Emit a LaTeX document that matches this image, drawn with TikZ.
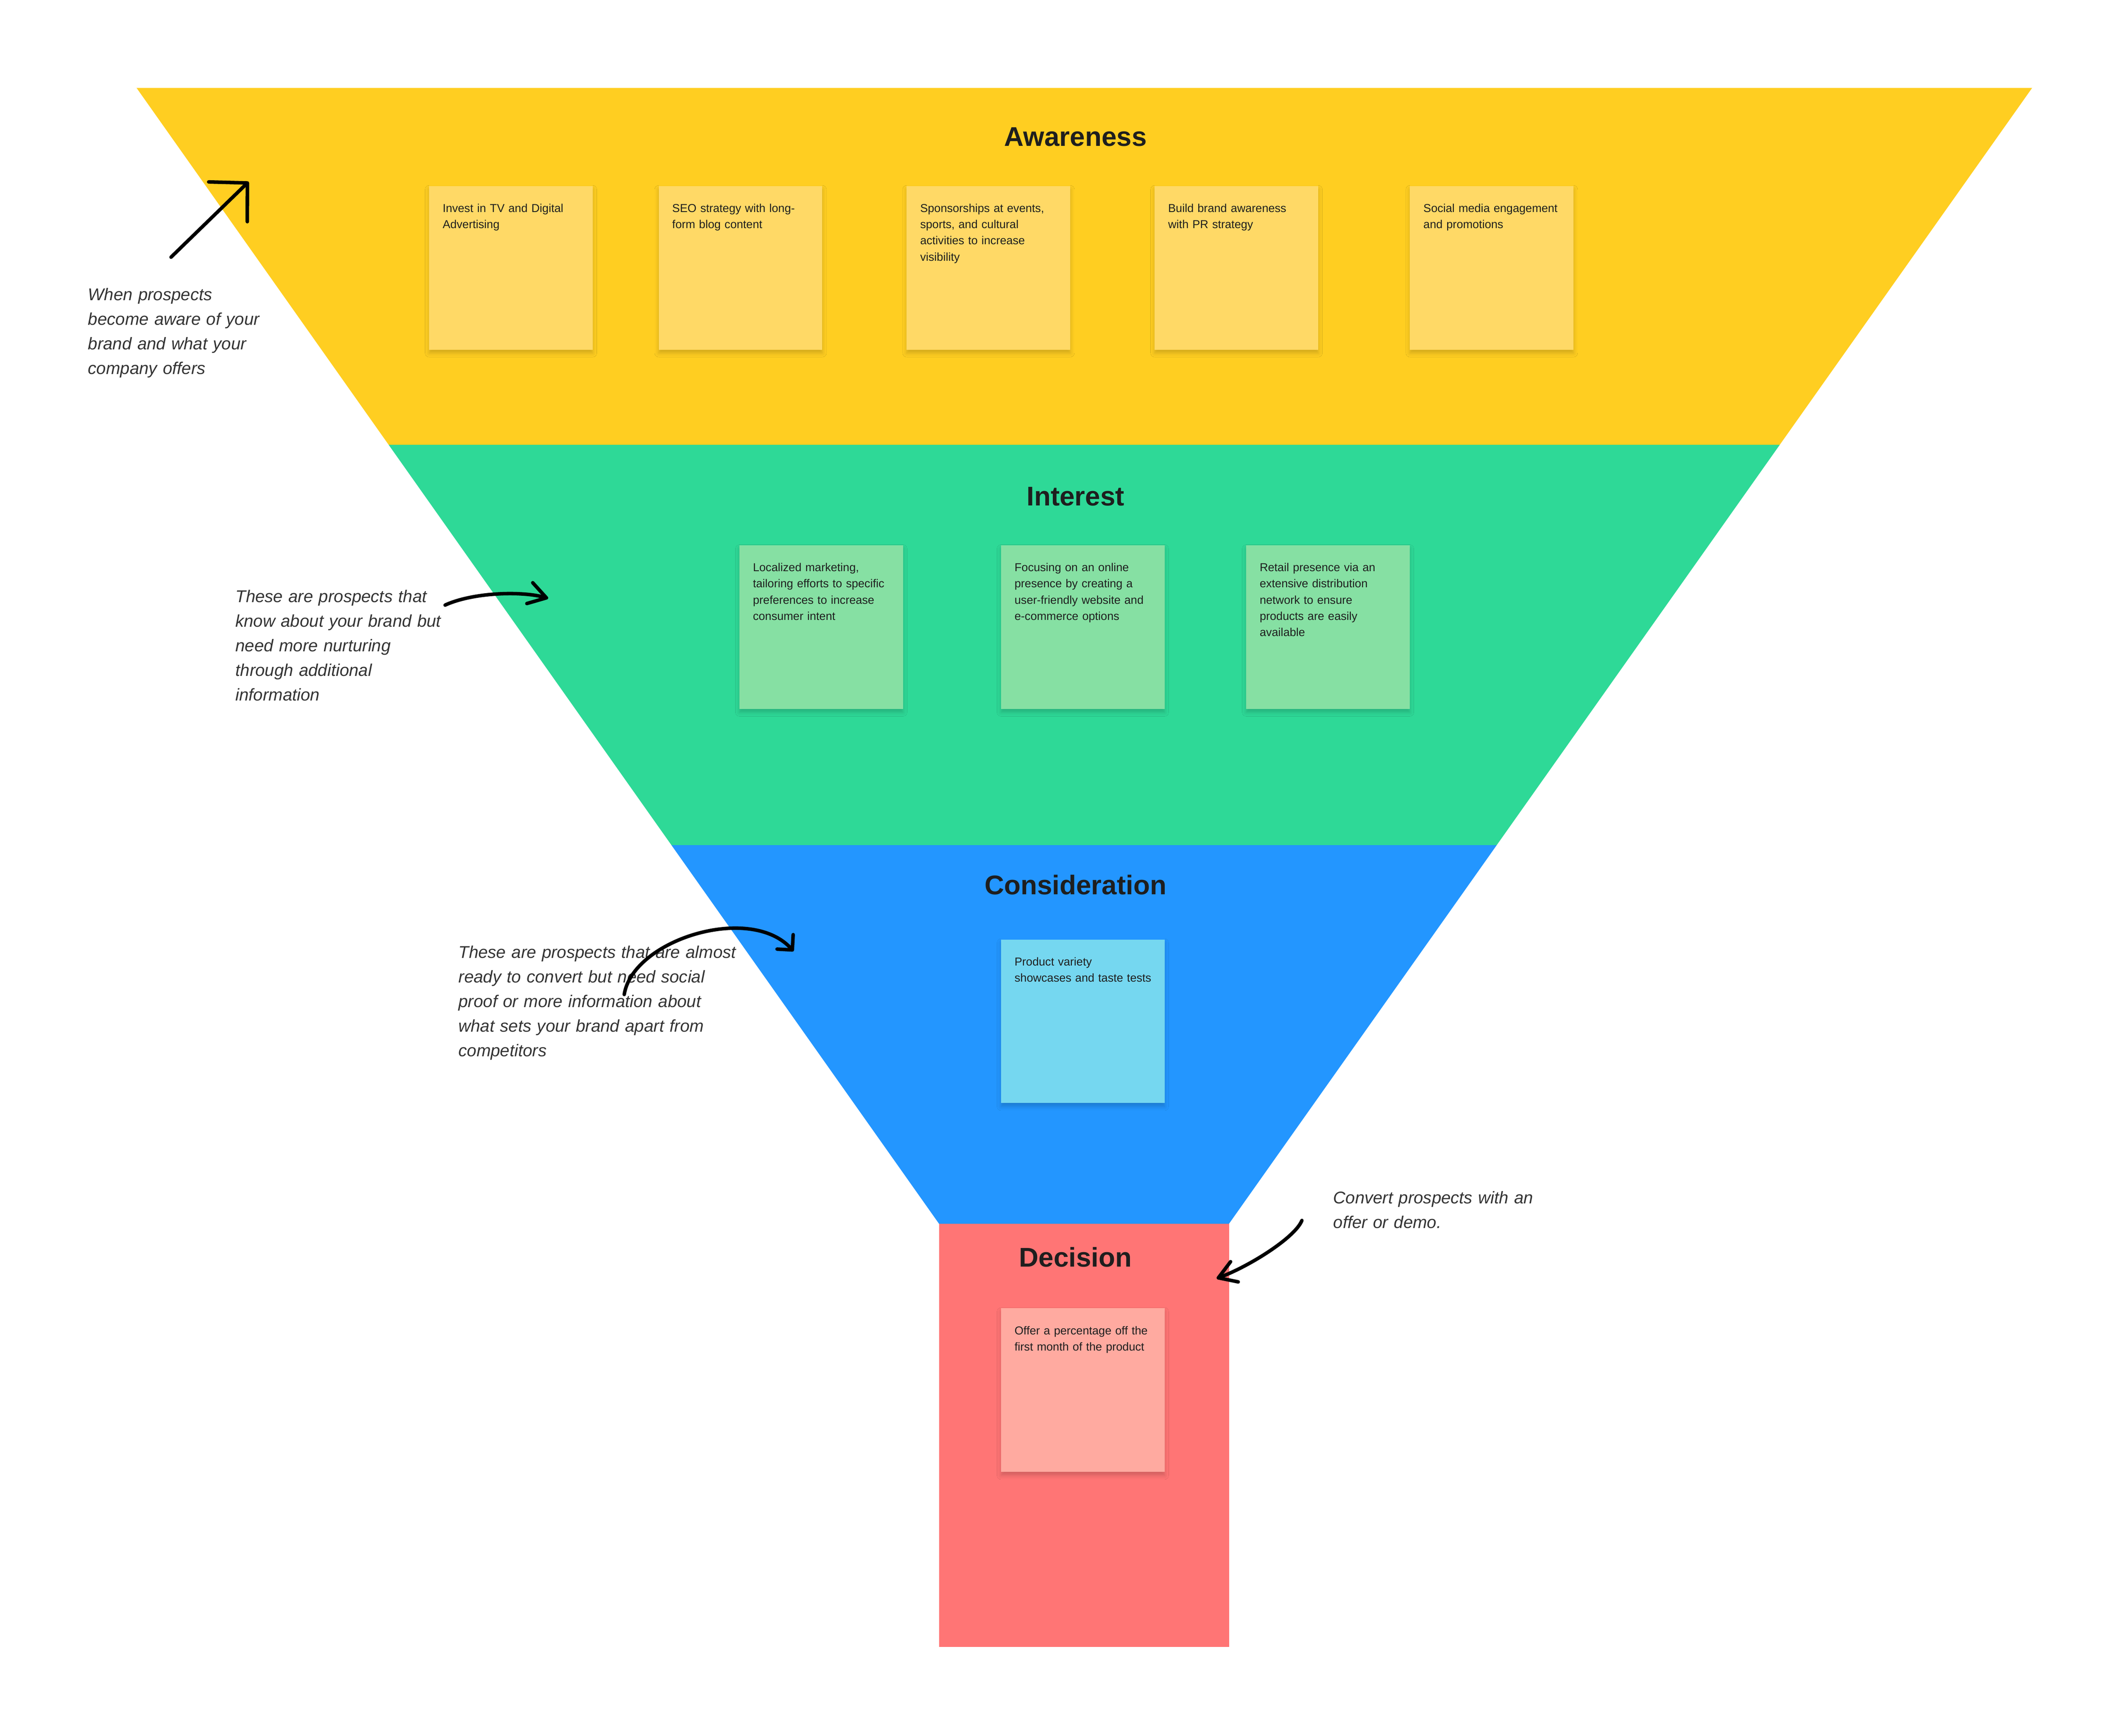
\documentclass[tikz,border=0pt]{standalone}
\usepackage{fontspec}
\setmainfont{Liberation Sans}
\usetikzlibrary{arrows.meta,shadows.blur}

\definecolor{awarecol}{HTML}{FFCE21}
\definecolor{interestcol}{HTML}{2ED997}
\definecolor{considercol}{HTML}{2396FF}
\definecolor{decisioncol}{HTML}{FF7575}
\definecolor{stickyY}{HTML}{FFD966}
\definecolor{stickyG}{HTML}{86E0A3}
\definecolor{stickyB}{HTML}{75D7F0}
\definecolor{stickyR}{HTML}{FFAAA0}
\definecolor{inkdark}{HTML}{1E1E1E}
\definecolor{inkgray}{HTML}{333333}

\tikzset{
  stagetitle/.style={anchor=base, inner sep=0pt, text=inkdark,
    font=\fontsize{20}{24}\selectfont\bfseries},
  sticky/.style={anchor=north west, minimum width=121pt, minimum height=121pt, inner sep=0pt,
    blur shadow={shadow xshift=0pt, shadow yshift=-2.5pt, shadow blur radius=3pt, shadow opacity=18}},
  stickytext/.style={anchor=base west, inner sep=0pt, text width=110pt, align=left, text=inkdark,
    font=\fontsize{8.5}{12}\selectfont},
  remark/.style={anchor=base west, inner sep=0pt, text width=240pt, align=left, text=inkgray,
    font=\fontsize{12.6}{18.2}\selectfont\itshape},
  hand/.style={line width=2.6pt, line cap=round, line join=round, black},
}

\begin{document}
\begin{tikzpicture}[x=1pt, y=-1pt]
\useasboundingbox (0,0) rectangle (1568,1283.8);

% funnel
\fill[awarecol] (101,65) -- (1503,65) -- (1316.3,329) -- (287.5,329) -- cycle;
\fill[interestcol] (287.5,329) -- (1316.3,329) -- (1107,625) -- (496.6,625) -- cycle;
\fill[considercol] (496.6,625) -- (1107,625) -- (909,905) -- (694.5,905) -- cycle;
\fill[decisioncol] (694.5,905) rectangle (909,1218);

\node[stagetitle] (T_aw) at (795.5,108) {Awareness};
\node[stagetitle] (T_in) at (795.5,374) {Interest};
\node[stagetitle] (T_co) at (795.5,661.4) {Consideration};
\node[stagetitle] (T_de) at (795.5,936.9) {Decision};

% awareness stickies
\node[sticky, fill=stickyY] (A_1) at (317.2,137.4) {};
\node[stickytext] (A_1t) at ([shift={(10,19.5)}]A_1.north west) {Invest in TV and Digital\\Advertising};
\node[sticky, fill=stickyY] (A_2) at (487,137.4) {};
\node[stickytext] (A_2t) at ([shift={(10,19.5)}]A_2.north west) {SEO strategy with long-\\form blog content};
\node[sticky, fill=stickyY] (A_3) at (670.4,137.4) {};
\node[stickytext] (A_3t) at ([shift={(10,19.5)}]A_3.north west) {Sponsorships at events,\\sports, and cultural\\activities to increase\\visibility};
\node[sticky, fill=stickyY] (A_4) at (853.8,137.4) {};
\node[stickytext] (A_4t) at ([shift={(10,19.5)}]A_4.north west) {Build brand awareness\\with PR strategy};
\node[sticky, fill=stickyY] (A_5) at (1042.6,137.4) {};
\node[stickytext] (A_5t) at ([shift={(10,19.5)}]A_5.north west) {Social media engagement\\and promotions};

% interest stickies
\node[sticky, fill=stickyG] (I_1) at (546.7,403.1) {};
\node[stickytext] (I_1t) at ([shift={(10,19.5)}]I_1.north west) {Localized marketing,\\tailoring efforts to specific\\preferences to increase\\consumer intent};
\node[sticky, fill=stickyG] (I_2) at (740.2,403.1) {};
\node[stickytext] (I_2t) at ([shift={(10,19.5)}]I_2.north west) {Focusing on an online\\presence by creating a\\user-friendly website and\\e-commerce options};
\node[sticky, fill=stickyG] (I_3) at (921.5,403.1) {};
\node[stickytext] (I_3t) at ([shift={(10,19.5)}]I_3.north west) {Retail presence via an\\extensive distribution\\network to ensure\\products are easily\\available};

% consideration + decision stickies
\node[sticky, fill=stickyB] (C_1) at (740.2,694.6) {};
\node[stickytext] (C_1t) at ([shift={(10,19.5)}]C_1.north west) {Product variety\\showcases and taste tests};
\node[sticky, fill=stickyR] (D_1) at (740.2,967.4) {};
\node[stickytext] (D_1t) at ([shift={(10,19.5)}]D_1.north west) {Offer a percentage off the\\first month of the product};

% remarks
\node[remark] (R_aw) at (65,222.2) {When prospects\\become aware of your\\brand and what your\\company offers};
\node[remark] (R_in) at (174,445.5) {These are prospects that\\know about your brand but\\need more nurturing\\through additional\\information};
\node[remark] (R_co) at (339,708.5) {These are prospects that are almost\\ready to convert but need social\\proof or more information about\\what sets your brand apart from\\competitors};
\node[remark] (R_de) at (986,890) {Convert prospects with an\\offer or demo.};

% hand drawn arrows
\coordinate (R_aw_s) at (126.5,190.2);
\coordinate (R_aw_e) at (183.9,134.4);
\draw[hand, -{Straight Barb[length=20pt, width=41pt, round]}] (R_aw_s) -- (R_aw_e);
\coordinate (R_in_s) at (329.2,447.5);
\coordinate (R_in_e) at (405.4,442.5);
\draw[hand, -{Straight Barb[length=12.8pt, width=16pt, round]}] (R_in_s) .. controls (350,438) and (386,437) .. (R_in_e);
\coordinate (R_co_s) at (461.7,735.5);
\coordinate (R_co_e) at (586.9,703.5);
\draw[hand, -{Straight Barb[length=8pt, width=16pt, round]}] (R_co_s) .. controls (468,695) and (555,668) .. (R_co_e);
\coordinate (R_de_s) at (962.9,902.6);
\coordinate (R_de_e) at (899.9,945.5);
\draw[hand, -{Straight Barb[length=12.7pt, width=16pt, round]}] (R_de_s) .. controls (958,915) and (925,936) .. (R_de_e);
\end{tikzpicture}
\end{document}
